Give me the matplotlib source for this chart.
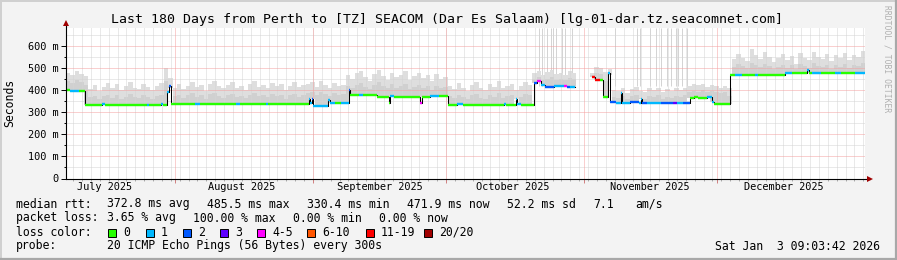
from datetime import datetime
import numpy as np
import matplotlib
matplotlib.use("Agg")
import matplotlib.pyplot as plt

MONO = "DejaVu Sans Mono"
W, H = 897, 260

# time frame of the graph (180 days ending at the stamp)
n_days = 180
t_start = datetime(2025, 7, 7, 9, 3, 42)

def day_of(t):
    return (t - t_start).total_seconds() / 86400.0

# smoke: per-day highest ping (ms) and upper edge of the dense band (ms)
smoke_hi = [478, 470, 486, 472, 462,
            405, 422, 398, 416, 434, 410, 428, 401, 418, 437, 412, 404, 430, 414, 399, 421, 432,
            500, 455,
            412, 428, 404, 420, 438, 415, 424, 398, 430, 442, 417, 408, 425, 435, 411, 420, 402, 428, 440, 416,
            422, 409, 433, 418, 426, 400, 421, 437, 414, 424,
            428, 436, 415, 440, 422, 410, 432, 418, 425,
            470, 452, 478, 488, 460, 442, 475, 490, 465, 448, 480, 458, 470, 485, 445, 462, 476, 455, 468, 440,
            472, 450, 460,
            420, 405, 432, 412, 398, 425, 438, 410, 402, 428, 415, 440, 408, 420, 430, 400, 418, 436, 425,
            478, 486, 470, 482, 490, 474, 480, 468, 485, 476,
            np.nan, np.nan, np.nan,
            480, 505, 500, 482, 498,
            402, 395, 410, 388, 405, 414, 398, 392, 408, 400, 412, 390, 404, 396, 410, 400, 412,
            418, 428, 422, 430, 415, 425, 420, 412, 418, 410,
            540, 565, 548, 530, 585, 560, 542, 572, 550, 528, 545, 562, 538, 555, 520, 570, 548, 535, 575, 552,
            540, 565, 530, 558, 545, 570, 538, 560, 550, 578]
smoke_mid = [440, 432, 445, 436, 425,
             368, 375, 362, 372, 380, 366, 378, 360, 370, 382, 368, 364, 376, 370, 358, 372, 378,
             440, 410,
             372, 380, 365, 376, 385, 370, 378, 362, 382, 388, 372, 366, 378, 384, 370, 375, 364, 380, 386, 372,
             376, 368, 382, 374, 378, 362, 376, 384, 370, 378,
             385, 390, 378, 392, 382, 375, 388, 380, 384,
             420, 412, 425, 432, 415, 405, 422, 435, 418, 408, 428, 412, 420, 430, 405, 415, 424, 410, 418, 402,
             420, 408, 414,
             372, 365, 380, 368, 360, 376, 384, 366, 362, 378, 370, 386, 364, 372, 380, 360, 370, 384, 376,
             450, 458, 446, 452, 460, 448, 452, 444, 456, 450,
             np.nan, np.nan, np.nan,
             470, 480, 475, 440, 470,
             370, 366, 375, 362, 372, 378, 366, 362, 374, 368, 376, 360, 370, 365, 374, 368, 376,
             392, 398, 394, 400, 390, 396, 392, 386, 390, 372,
             505, 518, 508, 500, 525, 512, 504, 520, 510, 498, 506, 515, 502, 512, 495, 520, 508, 500, 522, 510,
             504, 516, 498, 512, 506, 520, 502, 514, 508, 524]

# single rounds that went off the scale (day positions)
spike_days = [106.6, 107.2, 108.3, 109.2, 109.6, 110.5, 111.8, 112.4, 114.0,
              123.7, 128.6, 129.3, 131.6, 132.9, 134.0, 135.4, 136.3, 137.4, 137.9, 138.8, 139.9]

# median rtt as steps: start day, value (ms), loss class
med_start = [0.0, 1.0, 3.0, 4.2, 8.0, 8.7, 18.2, 18.6, 21.4, 21.8, 22.7, 23.2, 23.7,
             29.0, 30.2, 38.2, 39.3, 45.0, 45.6, 54.7, 55.0, 55.4, 55.7, 59.0, 59.4, 60.5, 62.0,
             63.7, 64.0, 66.0, 67.0, 70.0, 72.8, 73.1, 74.0, 79.8, 80.2, 82.0, 84.0,
             86.1, 88.0, 89.5, 98.7, 99.2, 101.3, 101.6, 102.5,
             105.5, 106.2, 107.0, 108.0, 110.0, 112.2, 112.8, 113.5, 114.7,
             118.4, 119.1, 120.3, 120.9, 122.0, 122.6, 124.0, 125.0, 125.3, 127.0, 129.0, 129.5, 129.8,
             131.0, 134.0, 136.8, 137.6, 139.0,
             140.5, 141.5, 142.3, 144.5, 145.5, 145.9,
             149.6, 150.7, 152.3, 155.2, 155.9, 162.0, 163.6, 166.9, 167.3, 168.0, 170.2, 173.2, 174.7, 177.7]
med_val = [402, 397, 396, 333, 336, 333, 334, 333, 336, 333, 392, 420, 336,
           338, 336, 339, 336, 338, 336, 360, 340, 358, 328, 357, 342, 342, 344,
           400, 378, 376, 377, 371, 342, 372, 370, 340, 370, 373, 372,
           333, 336, 334, 336, 334, 358, 336, 334,
           432, 440, 424, 416, 417, 418, 416, 415, np.nan,
           460, 446, 445, 370, 478, 345, 344, 388, 344, 345, 344, 362, 344,
           343, 344, 344, 343, 344,
           365, 370, 366, 368, 347, 336,
           468, 470, 469, 471, 469, 476, 477, 491, 477, 478, 477, 478, 477, 478]
med_loss = [0, 1, 0, 0, 1, 0, 1, 0, 1, 0, 1, 2, 0,
            1, 0, 1, 0, 1, 0, 1, 1, 2, 1, 1, 1, 0, 1,
            2, 0, 1, 0, 0, 0, 1, 0, 4, 0, 1, 0,
            0, 1, 0, 1, 0, 1, 1, 0,
            2, 4, 1, 2, 1, 4, 2, 1, 0,
            6, 6, 0, 0, 1, 2, 1, 1, 1, 2, 1, 1, 2,
            1, 2, 3, 1, 2,
            0, 0, 0, 1, 1, 0,
            0, 1, 0, 1, 0, 1, 0, 1, 0, 1, 0, 1, 0, 1]

loss_labels = ["0", "1", "2", "3", "4-5", "6-10", "11-19", "20/20"]
loss_colors = ["#26ff00", "#00b8ff", "#0059ff", "#5e00ff", "#ff00ff", "#ff5500", "#ff0000", "#a10000"]

stats_rtt = ["372.8 ms avg", "485.5 ms max", "330.4 ms min", "471.9 ms now", "52.2 ms sd", "7.1", "am/s"]
stats_loss = ["3.65 % avg", "100.00 % max", "0.00 % min", "0.00 % now"]

# ---------------------------------------------------------------------------
fig = plt.figure(figsize=(W / 100, H / 100), dpi=100)
fig.patch.set_facecolor("#f3f3f3")

x0, y0 = 66.0, 178.5
ax = fig.add_axes([x0 / W, (H - y0) / H, 799 / W, 150.5 / H])
ymax = 150.5 / 0.2208
ax.set_xlim(0, n_days)
ax.set_ylim(0, ymax)
ax.set_facecolor("white")
for s in ax.spines.values():
    s.set_visible(False)

# grid (drawn over the smoke, like rrdtool), dotted
month_starts = [datetime(2025, m, 1) for m in (8, 9, 10, 11, 12)]
month_days = [day_of(t) for t in month_starts]
minor_ref = day_of(datetime(2025, 11, 30))
minor_days = np.arange(minor_ref % 2, n_days, 2.0)
dots = dict(lw=0.72, ls=(0, (1, 1)), zorder=2)
for d in minor_days:
    ax.axvline(d, color="#d4d4d4", **dots)
for v in np.arange(50, ymax, 100):
    ax.axhline(v, color="#d4d4d4", **dots)
for d in month_days:
    ax.axvline(d, color="#f4a0a0", **dots)
for v in range(100, 700, 100):
    ax.axhline(v, color="#f4a0a0", **dots)

# median lookup for smoke bottoms
med_start_a = np.array(med_start)
med_val_a = np.array(med_val, dtype=float)
days = np.arange(n_days)
idx = np.searchsorted(med_start_a, days + 0.5, side="right") - 1
bottom = med_val_a[idx]
hi = np.array(smoke_hi, dtype=float)
mid = np.array(smoke_mid, dtype=float)

ax.vlines(spike_days, 420, ymax, color="#d4d4d4", lw=0.72, zorder=1)
ax.bar(days, hi - bottom, bottom=bottom, width=1.0, align="edge", color="#dedede", linewidth=0, zorder=1)
ax.bar(days, mid - bottom, bottom=bottom, width=1.0, align="edge", color="#d0d0d0", linewidth=0, zorder=1)

# median line: black steps plus loss-coloured levels
med_end = med_start[1:] + [n_days]
xs, ys = [], []
for s, e, v in zip(med_start, med_end, med_val):
    xs += [s, e]
    ys += [v, v]
ax.plot(xs, ys, color="black", lw=0.75, zorder=3)
for s, e, v, l in zip(med_start, med_end, med_val, med_loss):
    if not np.isnan(v):
        ax.hlines(v, s, e, colors=loss_colors[l], lw=1.7, zorder=4, capstyle="butt")

# axes lines and arrows
ax.plot([0, 0], [0, 1.035], transform=ax.transAxes, color="black", lw=0.8, clip_on=False, zorder=5)
ax.plot([0, 1.006], [0, 0], transform=ax.transAxes, color="black", lw=0.8, clip_on=False, zorder=5)
ax.plot([0], [1.035], transform=ax.transAxes, marker="^", ms=4.5, color="#a00000", mew=0, clip_on=False, zorder=6)
ax.plot([1.006], [0], transform=ax.transAxes, marker=">", ms=4.5, color="#a00000", mew=0, clip_on=False, zorder=6)

# ticks and labels
ax.set_yticks(range(0, 700, 100))
ax.set_yticklabels(["0"] + ["%d m" % v for v in range(100, 700, 100)], family=MONO, fontsize=7.4)
ax.set_yticks(np.arange(50, 650, 100), minor=True)
ax.set_xticks(month_days)
ax.set_xticklabels([""] * len(month_days))
ax.set_xticks(minor_days, minor=True)
ax.tick_params(axis="y", which="major", length=3.5, width=0.7, pad=2)
ax.tick_params(axis="y", which="minor", length=1.5, width=0.7)
ax.tick_params(axis="x", which="major", length=3, width=0.7, color="#d08080")
ax.tick_params(axis="x", which="minor", length=1.5, width=0.6, color="#a0a0a0")

month_names = ["July 2025", "August 2025", "September 2025", "October 2025", "November 2025", "December 2025"]
label_dates = [datetime(2025, m, 16) for m in (7, 8, 9, 10, 11, 12)]
for name, t in zip(month_names, label_dates):
    ax.text(day_of(t), -(187 - y0) / 150.5, name, transform=ax.get_xaxis_transform(),
            ha="center", va="center", family=MONO, fontsize=7.4)

def ftext(x, y, s, **kw):
    kw.setdefault("family", MONO)
    kw.setdefault("fontsize", 8.3)
    kw.setdefault("va", "center")
    fig.text(x / W, 1 - y / H, s, **kw)

ftext(447, 19, "Last 180 Days from Perth to [TZ] SEACOM (Dar Es Salaam) [lg-01-dar.tz.seacomnet.com]",
      ha="center", fontsize=9.5)
ftext(10, 103, "Seconds", ha="center", rotation=90, fontsize=8.3)
ftext(887, 59, "RRDTOOL / TOBI OETIKER", ha="center", rotation=270, fontsize=5.8, color="#b0b0b0")

# legend block
ftext(16, 204, "median rtt:")
for xp, s in zip([107, 207, 307, 407, 507, 593, 635], stats_rtt):
    ftext(xp, 204, s)
ftext(16, 218, "packet loss:")
for xp, s in zip([107, 193, 293, 379], stats_loss):
    ftext(xp, 218, s)
ftext(16, 232, "loss color:")
box_x = [108, 146, 183, 220, 257, 307, 366, 424]
for bx, c, lab in zip(box_x, loss_colors, loss_labels):
    fig.patches.append(plt.Rectangle((bx / W, 1 - 236.5 / H), 8 / W, 8 / H, transform=fig.transFigure,
                                     facecolor=c, edgecolor="black", lw=0.7))
    ftext(bx + 15, 232, lab)
ftext(16, 246, "probe:")
ftext(107, 246, "20 ICMP Echo Pings (56 Bytes) every 300s")
ftext(880, 246, "Sat Jan  3 09:03:42 2026", ha="right")

# frame around the image
fig.add_artist(plt.Line2D([0, 1], [1 - 0.5 / H, 1 - 0.5 / H], color="#d0d0d0", lw=1.4))
fig.add_artist(plt.Line2D([0.5 / W, 0.5 / W], [0, 1], color="#d0d0d0", lw=1.4))
fig.add_artist(plt.Line2D([0, 1], [1 / H, 1 / H], color="#a8a8a8", lw=1.6))
fig.add_artist(plt.Line2D([1 - 1 / W, 1 - 1 / W], [0, 1], color="#a8a8a8", lw=1.6))

fig.savefig("out.png", dpi=100, facecolor=fig.get_facecolor())
